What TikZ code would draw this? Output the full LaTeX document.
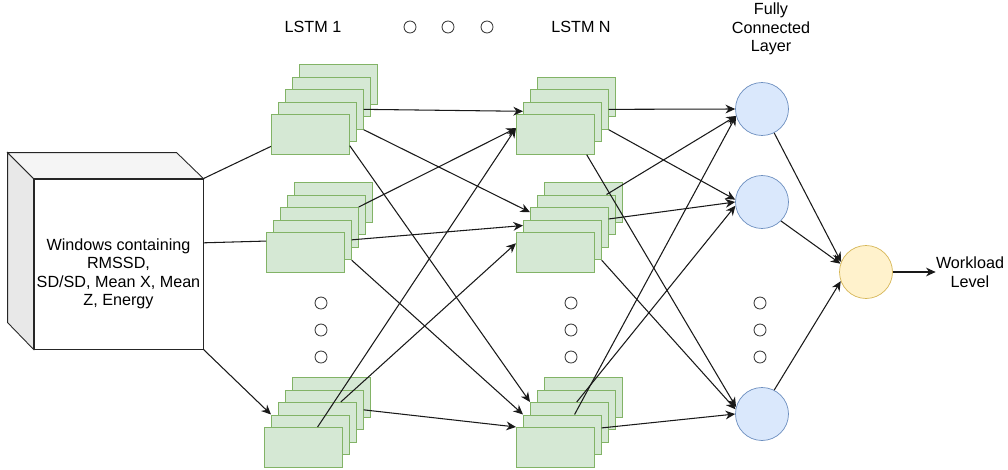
\documentclass[tikz,border=0pt]{standalone}
\usepackage{fontspec}
\setmainfont{Liberation Sans}
\usetikzlibrary{arrows.meta}
\definecolor{nngreen}{RGB}{213,232,212}
\definecolor{nngreenline}{RGB}{130,179,102}
\definecolor{nnblue}{RGB}{218,232,252}
\definecolor{nnblueline}{RGB}{108,142,191}
\definecolor{nnyellow}{RGB}{255,242,204}
\definecolor{nnyellowline}{RGB}{214,182,86}
\tikzset{
  nncell/.style={draw=nngreenline, fill=nngreen, anchor=north west, minimum width=1.56cm, minimum height=.8cm, inner sep=0pt},
  nnfc/.style={draw=nnblueline, fill=nnblue, circle, minimum size=1.06cm, inner sep=0pt},
  nnout/.style={draw=nnyellowline, fill=nnyellow, circle, minimum size=1.06cm, inner sep=0pt},
  nndot/.style={draw=black!75, circle, minimum size=.24cm, inner sep=0pt, line width=.5pt},
  nnlabel/.style={align=center, inner sep=0pt},
  nnarr/.style={-{Stealth[length=5.5pt,width=5pt]}, line width=.6pt, draw=black!90},
  nnline/.style={line width=.6pt, draw=black!90},
  nncube/.style={draw=black!85, line width=.5pt}
}

\begin{document}
\begin{tikzpicture}[x=0.02cm, y=-0.02cm, font=\fontsize{9.2}{10.5}\selectfont]
  \useasboundingbox (0,0) rectangle (1008,470);
  % input cube
  \node[nncube, fill=white, minimum width=3.38cm, minimum height=3.4cm, inner sep=0pt] (inp) at (118.5,264) {};
  \filldraw[nncube, fill=gray!18] (inp.north west) -- ++(-26,-26) -- ++(0,170) -- (inp.south west) -- cycle;
  \filldraw[nncube, fill=gray!8] (inp.north west) -- ++(-26,-26) -- ++(169,0) -- (inp.north east) -- cycle;
  \node[nnlabel] (inptxt) at (118.5,274) {Windows containing\\RMSSD,\\SD/SD, Mean X, Mean\\Z, Energy};
  % lstm stacks
  \foreach \s/\x/\y/\n in {a1/271/114/4, a2/266/232/4, a3/264/427/4, b1/516/114/3, b2/516/232/4, b3/516/427/4} {
    \foreach \i in {\n,...,0} {
      \node[nncell] (\s-\i) at (\x+7*\i, \y-12.5*\i) {};
    }
  }
  % fully connected + output
  \node[nnfc] (f1) at (762,109) {};
  \node[nnfc] (f2) at (762,202) {};
  \node[nnfc] (f3) at (762,414) {};
  \node[nnout] (out) at (866,272) {};
  % labels
  \node[nnlabel] (l1) at (313,27) {LSTM 1};
  \node[nnlabel] (ln) at (581,27) {LSTM N};
  \node[nnlabel] (lfc) at (771,29) {Fully\\Connected\\Layer};
  \node[nnlabel] (wl) at (970,272) {Workload\\Level};
  % dots
  \node[nndot] (d1) at (410,27) {};
  \node[nndot] (d2) at (448,27) {};
  \node[nndot] (d3) at (487,27) {};
  \foreach \c/\x in {p/321, q/571, r/760} {
    \node[nndot] (\c1) at (\x,303) {};
    \node[nndot] (\c2) at (\x,330) {};
    \node[nndot] (\c3) at (\x,357) {};
  }
  % input to lstm 1
  \draw[nnline] (inp.north east) -- (a1-0.197);
  \draw[nnline] (inp.14) -- (a2-0.164);
  \draw[nnarr] (inp.south east) -- (a3-1.north west);
  % lstm 1 to lstm N
  \draw[nnarr] (a1-2.east) -- (b1-1.165);
  \draw[nnarr] (a1-2.south east) -- (b2-2.159);
  \draw[nnarr] (a1-0.-16) -- (b3-2.north west);
  \draw[nnarr] (a2-2.north east) -- (b1-0.171);
  \draw[nnarr] (a2-1.east) -- (b2-1.160);
  \draw[nnarr] (a2-1.south east) -- (b3-1.north west);
  \draw[nnarr] (a3-0.55) -- (b1-0.171);
  \draw[nnarr] (a3-2.41) -- (b2-0.167);
  \draw[nnarr] (a3-3.east) -- (b3-0.north west);
  % lstm N to fc
  \draw[nnarr] (b1-2.east) -- (f1.west);
  \draw[nnarr] (b1-2.south east) -- (f2.175);
  \draw[nnarr] (b1-0.-33) -- (f3.165);
  \draw[nnarr] (b2-3.34) -- (f1.195);
  \draw[nnarr] (b2-2.12) -- (f2.west);
  \draw[nnarr] (b2-1.south east) -- (f3.170);
  \draw[nnarr] (b3-1.59) -- (f1.195);
  \draw[nnarr] (b3-2.70) -- (f2.188);
  \draw[nnarr] (b3-1.10) -- (f3.west);
  % fc to output
  \draw[nnarr] (f1.-63) -- (out.158);
  \draw[nnarr] (f2.-45) -- (out.162);
  \draw[nnarr] (f3.63) -- (out.200);
  \draw[nnarr] (out.east) -- (wl.west);
\end{tikzpicture}
\end{document}
